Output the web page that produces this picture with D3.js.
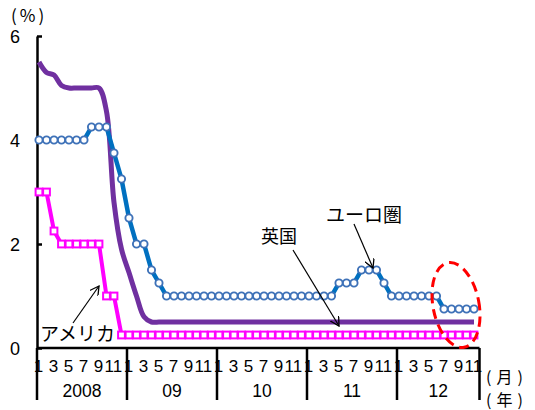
<!DOCTYPE html>
<html><head><meta charset="utf-8">
<script src="https://cdn.jsdelivr.net/npm/d3@7"></script>
<style>
body{margin:0;background:#fff;}
text{font-family:"Liberation Sans",Arial,sans-serif;fill:#000;}
.jp{font-family:"Noto Sans CJK JP","Noto Sans",sans-serif;}
</style></head>
<body><svg id="c" width="535" height="410"></svg>
<script>
// ---- data (monthly, Jan 2008 .. Nov 2012) ----
const years = ["2008","09","10","11","12"];
const monthLabels = ["1","3","5","7","9","11"];
const usRate = [3,3,2.25,2,2,2,2,2,2,1,1,0.25,
  0.25,0.25,0.25,0.25,0.25,0.25,0.25,0.25,0.25,0.25,0.25,0.25,
  0.25,0.25,0.25,0.25,0.25,0.25,0.25,0.25,0.25,0.25,0.25,0.25,
  0.25,0.25,0.25,0.25,0.25,0.25,0.25,0.25,0.25,0.25,0.25,0.25,
  0.25,0.25,0.25,0.25,0.25,0.25,0.25,0.25,0.25,0.25,0.25];
const ukRate = [5.5,5.3,5.25,5.05,5,5,5,5,5,4.55,2.8,1.9,
  1.45,1.0,0.6,0.5,0.5,0.5,0.5,0.5,0.5,0.5,0.5,0.5,
  0.5,0.5,0.5,0.5,0.5,0.5,0.5,0.5,0.5,0.5,0.5,0.5,
  0.5,0.5,0.5,0.5,0.5,0.5,0.5,0.5,0.5,0.5,0.5,0.5,
  0.5,0.5,0.5,0.5,0.5,0.5,0.5,0.5,0.5,0.5,0.5];
const euroRate = [4,4,4,4,4,4,4,4.25,4.25,4.25,3.75,3.25,
  2.5,2,2,1.5,1.25,1,1,1,1,1,1,1,
  1,1,1,1,1,1,1,1,1,1,1,1,
  1,1,1,1,1.25,1.25,1.25,1.5,1.5,1.5,1.25,1,
  1,1,1,1,1,1,0.75,0.75,0.75,0.75,0.75];
const yTicks = [0,2,4,6];

const months = d3.range(1, usRate.length + 1);
const svg = d3.select("#c");

const x = d3.scaleBand().domain(months).range([37, 479.5]).padding(0);
const y = d3.scaleLinear().domain([0, 6]).range([348, 36]);
const px = m => x(m) + 2;

// arrow marker
const defs = svg.append("defs");
defs.append("marker").attr("id","arr").attr("viewBox","0 0 10 10")
  .attr("refX",9).attr("refY",5).attr("markerWidth",10).attr("markerHeight",10)
  .attr("markerUnits","userSpaceOnUse").attr("orient","auto")
  .append("path").attr("d","M0,0 L9,5 L0,10").attr("fill","none")
  .attr("stroke","#000").attr("stroke-width",1.3);

// y axis
const yAxis = svg.append("g").attr("transform","translate(37,0)")
  .call(d3.axisLeft(y).tickValues(yTicks).tickFormat(d3.format("d"))
    .tickSizeInner(-5).tickSizeOuter(0).tickPadding(17));
yAxis.select(".domain").attr("stroke","#000").attr("stroke-width",2.5);
yAxis.selectAll(".tick line").attr("stroke","#000").attr("stroke-width",2.5);
yAxis.selectAll(".tick text").style("font-family","Liberation Sans, Arial, sans-serif")
  .style("font-size","18px").attr("dy","0.38em");

// unit label
svg.append("text").attr("class","jp").attr("x",11).attr("y",22)
  .style("font-size","17px").style("letter-spacing","3px").text("(%)");

// x axis
const xg = svg.append("g");
xg.append("line").attr("x1",37).attr("x2",479.5).attr("y1",348).attr("y2",348)
  .attr("stroke","#000").attr("stroke-width",2.5);
const dividers = years.map((yr,i)=>x(i*12+1)).concat([x.range()[1]]);
xg.selectAll("line.div").data(dividers).join("line").attr("class","div")
  .attr("x1",d=>d).attr("x2",d=>d).attr("y1",348).attr("y2",400)
  .attr("stroke","#000").attr("stroke-width",2.5);
const oddMonths = months.filter(m => ((m-1)%12)%2===0);
xg.selectAll("text.m").data(oddMonths).join("text").attr("class","m")
  .attr("x",m=>x(m)+x.bandwidth()/2-2.3).attr("y",372)
  .attr("text-anchor","middle").style("font-size","17px")
  .text(m=>monthLabels[((m-1)%12)/2]);
xg.selectAll("text.yr").data(years).join("text").attr("class","yr")
  .attr("x",(d,i)=>(dividers[i]+dividers[i+1])/2).attr("y",397)
  .attr("text-anchor","middle").style("font-size","17.5px").text(d=>d);
svg.append("text").attr("class","jp").attr("x",486).attr("y",383)
  .style("font-size","16px").style("letter-spacing","5px").text("(月)");
svg.append("text").attr("class","jp").attr("x",486).attr("y",406)
  .style("font-size","16px").style("letter-spacing","5px").text("(年)");

// lines
const ukLine = d3.line().x((d,i)=>px(months[i])).y(d=>y(d)).curve(d3.curveCatmullRom.alpha(0.5));
const stLine = d3.line().x((d,i)=>px(months[i])).y(d=>y(d));

svg.append("path").datum(ukRate).attr("d",ukLine).attr("fill","none")
  .attr("stroke","#7030A0").attr("stroke-width",5).attr("stroke-linejoin","round");
svg.append("path").datum(usRate).attr("d",stLine).attr("fill","none")
  .attr("stroke","#FF00FF").attr("stroke-width",4);
svg.append("path").datum(euroRate).attr("d",stLine).attr("fill","none")
  .attr("stroke","#0070C0").attr("stroke-width",4.5);

// markers
svg.selectAll("rect.us").data(usRate).join("rect").attr("class","us")
  .attr("x",(d,i)=>px(months[i])-3.4).attr("y",d=>y(d)-3.4)
  .attr("width",6.8).attr("height",6.8).attr("fill","#fff")
  .attr("stroke","#FF00FF").attr("stroke-width",2);
svg.selectAll("circle.eu").data(euroRate).join("circle").attr("class","eu")
  .attr("cx",(d,i)=>px(months[i])).attr("cy",d=>y(d)).attr("r",3.6)
  .attr("fill","#fff").attr("stroke","#3F72B8").attr("stroke-width",1.9);

// annotations
svg.append("text").attr("class","jp").attr("x",40).attr("y",341)
  .style("font-size","19px").text("アメリカ");
svg.append("line").attr("x1",73).attr("y1",323).attr("x2",99).attr("y2",286)
  .attr("stroke","#000").attr("stroke-width",1.2).attr("marker-end","url(#arr)");
svg.append("text").attr("class","jp").attr("x",261).attr("y",243)
  .style("font-size","18px").text("英国");
svg.append("line").attr("x1",293).attr("y1",250).attr("x2",339).attr("y2",326)
  .attr("stroke","#000").attr("stroke-width",1.2).attr("marker-end","url(#arr)");
svg.append("text").attr("class","jp").attr("x",326).attr("y",222)
  .style("font-size","19px").text("ユーロ圏");
svg.append("line").attr("x1",354).attr("y1",224).attr("x2",373).attr("y2",268)
  .attr("stroke","#000").attr("stroke-width",1.2).attr("marker-end","url(#arr)");

// red dashed ellipse
svg.append("ellipse").attr("cx",456).attr("cy",305).attr("rx",23).attr("ry",43)
  .attr("transform","rotate(-11,456,305)").attr("fill","none")
  .attr("stroke","#FF0000").attr("stroke-width",3).attr("stroke-dasharray","10,6");
</script></body></html>
